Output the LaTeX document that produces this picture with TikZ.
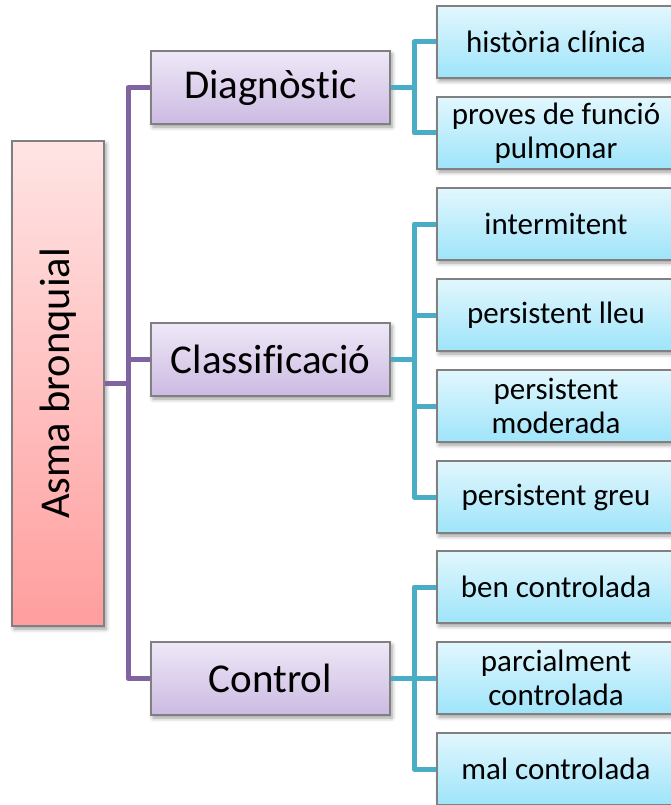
\documentclass[tikz,border=0pt]{standalone}
\usepackage{fontspec}
\setmainfont[RawFeature=-liga]{Carlito}
\usetikzlibrary{shadows.blur}
\definecolor{rootTop}{RGB}{255,228,228}
\definecolor{rootBot}{RGB}{255,158,158}
\definecolor{midTop}{RGB}{238,232,247}
\definecolor{midBot}{RGB}{204,186,226}
\definecolor{leafTop}{RGB}{226,247,253}
\definecolor{leafBot}{RGB}{158,228,250}
\definecolor{edgeGray}{RGB}{128,128,128}
\definecolor{trunkPurple}{RGB}{128,100,162}
\definecolor{branchTeal}{RGB}{75,172,198}
\begin{document}
\begin{tikzpicture}[x=1pt,y=-1pt,
  box/.style={draw=edgeGray, line width=1.2pt, inner sep=0pt, align=center,
    blur shadow={shadow xshift=2pt, shadow yshift=-3pt, shadow blur radius=4pt, shadow opacity=40}},
  rootbox/.style={box, top color=rootTop, bottom color=rootBot,
    minimum width=92pt, minimum height=485pt, font=\fontsize{42.5}{48}\selectfont},
  midbox/.style={box, top color=midTop, bottom color=midBot,
    minimum width=239pt, minimum height=73pt, font=\fontsize{41}{46}\selectfont},
  leafbox/.style={box, top color=leafTop, bottom color=leafBot,
    minimum width=238pt, minimum height=72pt, font=\fontsize{31}{34}\selectfont},
  purpleline/.style={draw=trunkPurple, line width=5pt, line join=round},
  tealline/.style={draw=branchTeal, line width=5pt, line join=round}]
\useasboundingbox (0,0) rectangle (670,805);

% root
\node[rootbox] (root) at (58,383.5) {\rotatebox{90}{Asma bronquial}};

% second level
\node[midbox] (diag)  at (270.5,87.5)  {Diagnòstic};
\node[midbox] (class) at (270.5,359.5) {Classificació};
\node[midbox] (ctrl)  at (270.5,678.5) {Control};

% leaves
\node[leafbox] (l1) at (556,42)  {història clínica};
\node[leafbox] (l2) at (556,133) {proves de funció\\pulmonar};
\node[leafbox] (l3) at (556,224) {intermitent};
\node[leafbox] (l4) at (556,315) {persistent lleu};
\node[leafbox] (l5) at (556,406) {persistent\\moderada};
\node[leafbox] (l6) at (556,497) {persistent greu};
\node[leafbox] (l7) at (556,587) {ben controlada};
\node[leafbox] (l8) at (556,678) {parcialment\\controlada};
\node[leafbox] (l9) at (556,769) {mal controlada};

% purple trunk
\coordinate (trunk) at (128,383.5);
\draw[purpleline] (root.east) -- (trunk);
\draw[purpleline] (trunk) |- (diag.west);
\draw[purpleline] (trunk) |- (class.west);
\draw[purpleline] (trunk) |- (ctrl.west);

% teal branches
\coordinate (bd) at (414,87.5);
\coordinate (bc) at (414,359.5);
\coordinate (bk) at (414,678.5);
\draw[tealline] (diag.east) -- (bd);
\draw[tealline] (class.east) -- (bc);
\draw[tealline] (ctrl.east) -- (bk);
\foreach \l in {l1,l2} \draw[tealline] (bd) |- (\l.west);
\foreach \l in {l3,l4,l5,l6} \draw[tealline] (bc) |- (\l.west);
\foreach \l in {l7,l8,l9} \draw[tealline] (bk) |- (\l.west);
\end{tikzpicture}
\end{document}
